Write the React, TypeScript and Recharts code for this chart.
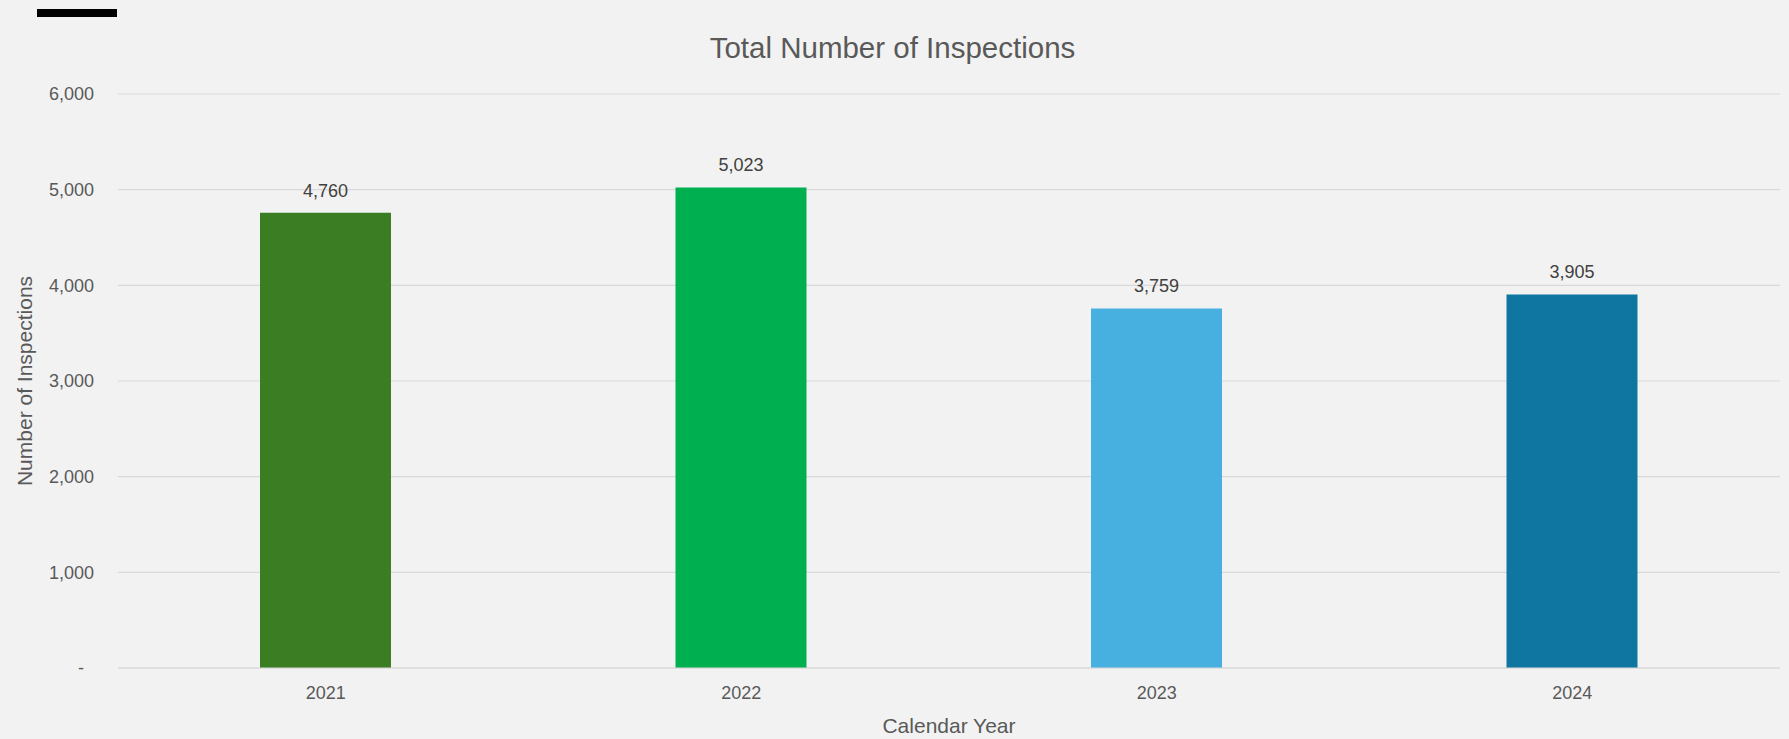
import React from 'react';
import { BarChart, Bar, XAxis, YAxis, CartesianGrid, Cell, LabelList } from 'recharts';

const years = ['2021', '2022', '2023', '2024'];
const inspections = [4760, 5023, 3759, 3905];
const barColors = ['#3B7D23', '#00B050', '#47B0E0', '#0E76A0'];
const yTicks = [0, 1000, 2000, 3000, 4000, 5000, 6000];

const data = years.map((year, i) => ({ year, value: inspections[i] }));

const W = 1789;
const H = 739;
const TICK_FONT = '"Liberation Sans", Arial, sans-serif';

const fmt = (v: number) => (v === 0 ? '-\u00A0\u00A0' : v.toLocaleString('en-US'));

const YLabel = (props: any) => {
  const vb = props.viewBox || {};
  const cx = 24;
  const cy = (vb.y ?? 0) + (vb.height ?? 0) / 2;
  return (
    <text
      x={cx}
      y={cy}
      transform={`rotate(-90, ${cx}, ${cy})`}
      textAnchor="middle"
      dominantBaseline="central"
      fill="#595959"
      fontSize={21}
      fontFamily={TICK_FONT}
    >
      Number of Inspections
    </text>
  );
};

const XLabel = (props: any) => {
  const vb = props.viewBox || {};
  const cx = (vb.x ?? 0) + (vb.width ?? 0) / 2;
  const y = (vb.y ?? 0) + 65;
  return (
    <text x={cx} y={y} textAnchor="middle" fill="#595959" fontSize={21} fontFamily={TICK_FONT}>
      Calendar Year
    </text>
  );
};

export default function App() {
  return (
    <div
      style={{
        position: 'absolute',
        left: 0,
        top: 0,
        width: W,
        height: H,
        background: '#F2F2F2',
        overflow: 'hidden',
      }}
    >
      <div
        style={{
          position: 'absolute',
          left: 37,
          top: 9,
          width: 80,
          height: 8,
          background: '#000000',
        }}
      />
      <div
        style={{
          position: 'absolute',
          left: 0,
          width: W,
          top: 30,
          textAlign: 'center',
          paddingLeft: 0,
          fontFamily: TICK_FONT,
          fontSize: 29.5,
          lineHeight: '36px',
          color: '#595959',
        }}
      >
        <span style={{ position: 'relative', left: -2 }}>Total Number of Inspections</span>
      </div>
      <div style={{ position: 'absolute', left: 0, top: 0 }}>
        <BarChart
          width={W}
          height={H}
          data={data}
          margin={{ top: 94, right: 9, bottom: 0, left: 0 }}
        >
          <CartesianGrid vertical={false} stroke="#D9D9D9" strokeWidth={1.2} />
          <XAxis
            dataKey="year"
            height={71}
            axisLine={{ stroke: '#D9D9D9', strokeWidth: 1.2 }}
            tickLine={false}
            tickMargin={12}
            tick={{ fill: '#595959', fontSize: 18, fontFamily: TICK_FONT }}
            label={{ content: XLabel }}
          />
          <YAxis
            width={118}
            domain={[0, 6000]}
            ticks={yTicks}
            axisLine={false}
            tickLine={false}
            tickMargin={18}
            tickFormatter={fmt}
            tick={{ fill: '#595959', fontSize: 18, fontFamily: TICK_FONT }}
            label={{ content: YLabel }}
          />
          <Bar dataKey="value" barSize={131} isAnimationActive={false}>
            {data.map((d, i) => (
              <Cell key={d.year} fill={barColors[i]} />
            ))}
            <LabelList
              dataKey="value"
              position="top"
              offset={16}
              formatter={(v: any) => Number(v).toLocaleString('en-US')}
              fill="#404040"
              fontSize={18}
              fontFamily={TICK_FONT}
            />
          </Bar>
        </BarChart>
      </div>
    </div>
  );
}
